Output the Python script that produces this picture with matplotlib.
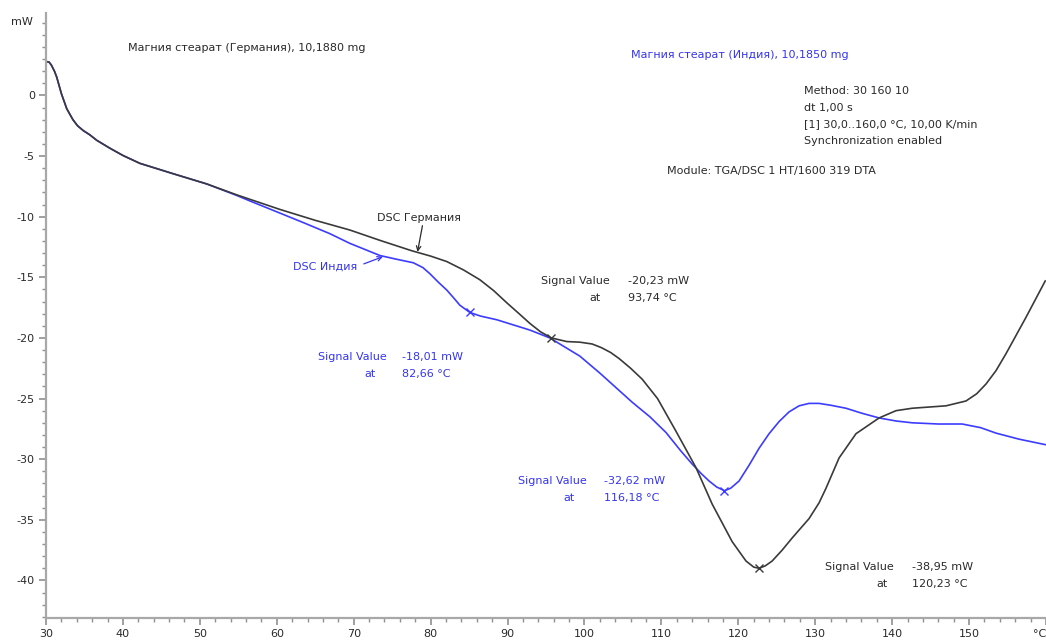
import matplotlib
matplotlib.use("Agg")
import matplotlib.pyplot as plt
from matplotlib.ticker import MultipleLocator

plt.rcParams['font.family'] = ['DejaVu Sans']
plt.rcParams['axes.unicode_minus'] = False

# ---- data ----
germany_T = [30.0, 30.4, 30.7, 31.1, 31.4, 32.0, 32.7, 33.5, 34.1, 34.85, 35.7, 36.6, 38.3,
             40.0, 42.2, 46.5, 50.9, 54.8, 60.4, 65.0, 69.5, 73.4, 77.5, 80.0, 82.1, 84.3,
             86.4, 88.2, 89.9, 91.5, 92.9, 94.3, 95.7, 97.7, 99.4, 101.0, 102.2, 103.4,
             104.5, 106.0, 107.5, 109.5, 111.9, 114.5, 116.6, 119.2, 121.0, 122.0, 122.7,
             123.5, 124.4, 125.7, 127.0, 129.2, 130.5, 131.4, 133.1, 135.3, 138.3, 140.5,
             142.6, 147.0, 149.6, 151.0, 152.2, 153.5, 154.8, 157.4, 159.9]
germany_mW = [2.8, 2.75, 2.5, 2.0, 1.5, 0.15, -1.1, -2.0, -2.5, -2.9, -3.25, -3.7, -4.35,
              -4.95, -5.6, -6.45, -7.3, -8.2, -9.4, -10.3, -11.1, -11.95, -12.8, -13.25, -13.7, -14.4,
              -15.2, -16.1, -17.1, -18.0, -18.8, -19.5, -20.0, -20.3, -20.35, -20.5, -20.8, -21.2,
              -21.7, -22.5, -23.4, -25.0, -27.7, -30.7, -33.7, -36.8, -38.4, -38.9, -39.0,
              -38.8, -38.4, -37.5, -36.5, -34.9, -33.6, -32.4, -29.9, -27.9, -26.6, -26.0,
              -25.8, -25.6, -25.2, -24.6, -23.8, -22.7, -21.3, -18.3, -15.3]

india_T = [30.0, 30.4, 30.7, 31.1, 31.4, 32.0, 32.7, 33.5, 34.1, 34.85, 35.7, 36.6, 38.3,
           40.0, 42.2, 46.5, 50.9, 54.8, 56.5, 60.4, 63.5, 66.9, 69.5, 73.4, 75.5, 77.75,
           79.0, 79.9, 81.0, 82.1, 83.0, 83.8, 85.1, 86.5, 88.6, 92.9, 95.5, 99.4, 102.0,
           106.2, 108.5, 110.6, 112.5, 114.0, 115.2, 116.2, 117.2, 118.2, 119.0, 120.1,
           121.4, 122.7, 124.0, 125.3, 126.6, 127.9, 129.2, 130.5, 132.0, 134.0, 136.0,
           138.3, 140.5, 142.6, 146.0, 149.1, 151.5, 153.5, 156.5, 159.9]
india_mW = [2.8, 2.75, 2.5, 2.0, 1.5, 0.15, -1.1, -2.0, -2.5, -2.9, -3.25, -3.7, -4.35,
            -4.95, -5.6, -6.45, -7.3, -8.25, -8.7, -9.7, -10.5, -11.4, -12.2, -13.2, -13.5, -13.8,
            -14.2, -14.7, -15.4, -16.05, -16.7, -17.3, -17.9, -18.2, -18.5, -19.35, -20.0, -21.5, -22.9,
            -25.3, -26.5, -27.8, -29.3, -30.4, -31.2, -31.8, -32.3, -32.6, -32.4, -31.8,
            -30.5, -29.1, -27.9, -26.9, -26.1, -25.6, -25.4, -25.4, -25.55, -25.8, -26.2,
            -26.6, -26.85, -27.0, -27.1, -27.1, -27.4, -27.85, -28.35, -28.8]

germany_mark_T = [95.7, 122.7]
germany_mark_mW = [-20.0, -39.0]
india_mark_T = [85.1, 118.2]
india_mark_mW = [-17.9, -32.6]

x_ticks = [30, 40, 50, 60, 70, 80, 90, 100, 110, 120, 130, 140, 150, 160]
x_labels = ['30', '40', '50', '60', '70', '80', '90', '100', '110', '120', '130', '140', '150', '°C']
y_ticks = [-40, -35, -30, -25, -20, -15, -10, -5, 0]

BLACK = '#3a3a3a'
BLUE = '#3c3cff'
TXT = '#2a2a2a'
TBLUE = '#3535f0'

fig = plt.figure(figsize=(10.46, 6.42), dpi=100)
ax = fig.add_axes([46 / 1046, 24 / 642, 1000 / 1046, 605 / 642])

ax.plot(india_T, india_mW, color=BLUE, lw=1.2)
ax.plot(germany_T, germany_mW, color=BLACK, lw=1.2)
ax.plot(germany_mark_T, germany_mark_mW, 'x', color=BLACK, ms=6, mew=1.0)
ax.plot(india_mark_T, india_mark_mW, 'x', color=BLUE, ms=6, mew=1.0)

ax.set_xlim(30, 160)
ax.set_ylim(-43.1, 6.8)

ax.set_xticks(x_ticks)
ax.set_xticklabels(x_labels)
ax.xaxis.set_minor_locator(MultipleLocator(2))
ax.set_yticks(y_ticks)
ax.set_yticklabels([str(v) for v in y_ticks])
ax.yaxis.set_minor_locator(MultipleLocator(1))
ax.get_xticklabels()[-1].set_ha('right')

for s in ['top', 'right']:
    ax.spines[s].set_visible(False)
for s in ['left', 'bottom']:
    ax.spines[s].set_color('#a8a8a8')
    ax.spines[s].set_linewidth(1.6)
ax.tick_params(which='major', length=5, width=1.2, color='#909090',
               labelsize=8, labelcolor=TXT, pad=3)
ax.tick_params(which='minor', length=3, width=1.0, color='#909090')

fs = 8
ax.text(-0.024, 0.985, 'mW', transform=ax.transAxes, fontsize=fs, color=TXT,
        ha='center', va='center')

ax.text(40.7, 3.9, 'Магния стеарат (Германия), 10,1880 mg', fontsize=fs, color=TXT,
        ha='left', va='center')
ax.text(106.1, 3.3, 'Магния стеарат (Индия), 10,1850 mg', fontsize=fs, color=TBLUE,
        ha='left', va='center')
info = ['Method: 30 160 10', 'dt 1,00 s', '[1] 30,0..160,0 °C, 10,00 K/min',
        'Synchronization enabled']
for i, line in enumerate(info):
    ax.text(128.6, 0.35 - i * 1.37, line, fontsize=fs, color=TXT, ha='left', va='center')
ax.text(110.7, -6.2, 'Module: TGA/DSC 1 HT/1600 319 DTA', fontsize=fs, color=TXT,
        ha='left', va='center')

ax.annotate('DSC Германия', xy=(78.3, -12.9), xytext=(73.0, -10.1), fontsize=fs,
            color=TXT, ha='left', va='center',
            arrowprops=dict(arrowstyle='->', color=TXT, lw=0.9,
                            shrinkA=0, shrinkB=0, relpos=(0.55, 0)))
ax.annotate('DSC Индия', xy=(73.8, -13.3), xytext=(62.1, -14.1), fontsize=fs,
            color=TBLUE, ha='left', va='center',
            arrowprops=dict(arrowstyle='->', color=TBLUE, lw=0.9,
                            shrinkA=3, shrinkB=0, relpos=(1, 0.5)))

def sig(x1, x2, x3, y1, value, temp, color):
    ax.text(x1, y1, 'Signal Value', fontsize=fs, color=color, ha='left', va='center')
    ax.text(x3, y1, value, fontsize=fs, color=color, ha='left', va='center')
    ax.text(x2, y1 - 1.4, 'at', fontsize=fs, color=color, ha='left', va='center')
    ax.text(x3, y1 - 1.4, temp, fontsize=fs, color=color, ha='left', va='center')

sig(94.4, 100.7, 105.6, -15.3, '-20,23 mW', '93,74 °C', TXT)
sig(65.3, 71.4, 76.3, -21.6, '-18,01 mW', '82,66 °C', TBLUE)
sig(91.3, 97.2, 102.5, -31.8, '-32,62 mW', '116,18 °C', TBLUE)
sig(131.3, 138.0, 142.6, -38.9, '-38,95 mW', '120,23 °C', TXT)

fig.savefig('out.png', dpi=100)
